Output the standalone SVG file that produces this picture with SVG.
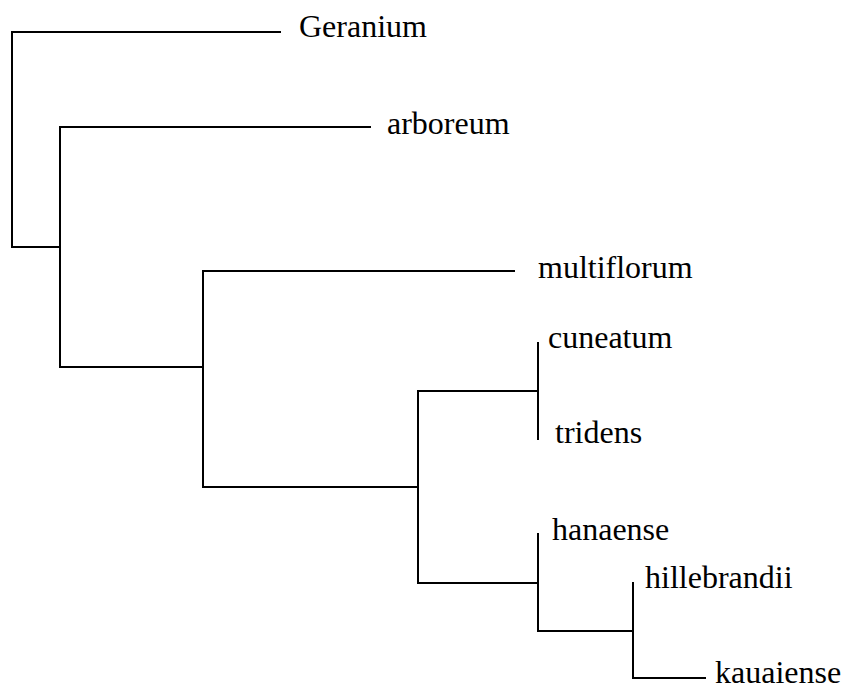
<svg xmlns="http://www.w3.org/2000/svg" width="844" height="690" viewBox="0 0 844 690">
  <style>
    .br { fill: none; stroke: #000; stroke-width: 2; stroke-linecap: square; }
    .lbl { font-family: "Liberation Serif", "Times New Roman", serif; font-size: 32px; fill: #000; }
  </style>
  <rect width="844" height="690" fill="#fff"/>
  <g id="connectors">
    <path class="br" d="M280,32 H12 V247 H60"/>
    <path class="br" d="M370,127 H60 V367 H203"/>
    <path class="br" d="M514,271 H203 V487 H418"/>
    <path class="br" d="M538,343 V439 M538,391 H418 V583 H538"/>
    <path class="br" d="M538,534 V631 H633"/>
    <path class="br" d="M633,583 V678 H705"/>
  </g>
  <g id="Geranium"><text class="lbl" x="299" y="37">Geranium</text></g>
  <g id="arboreum"><text class="lbl" x="387" y="134">arboreum</text></g>
  <g id="multiflorum"><text class="lbl" x="538" y="278">multiflorum</text></g>
  <g id="cuneatum"><text class="lbl" x="548" y="348">cuneatum</text></g>
  <g id="tridens"><text class="lbl" x="555" y="443">tridens</text></g>
  <g id="hanaense"><text class="lbl" x="552" y="540">hanaense</text></g>
  <g id="hillebrandii"><text class="lbl" x="645" y="588">hillebrandii</text></g>
  <g id="kauaiense"><text class="lbl" x="715" y="683">kauaiense</text></g>
</svg>
